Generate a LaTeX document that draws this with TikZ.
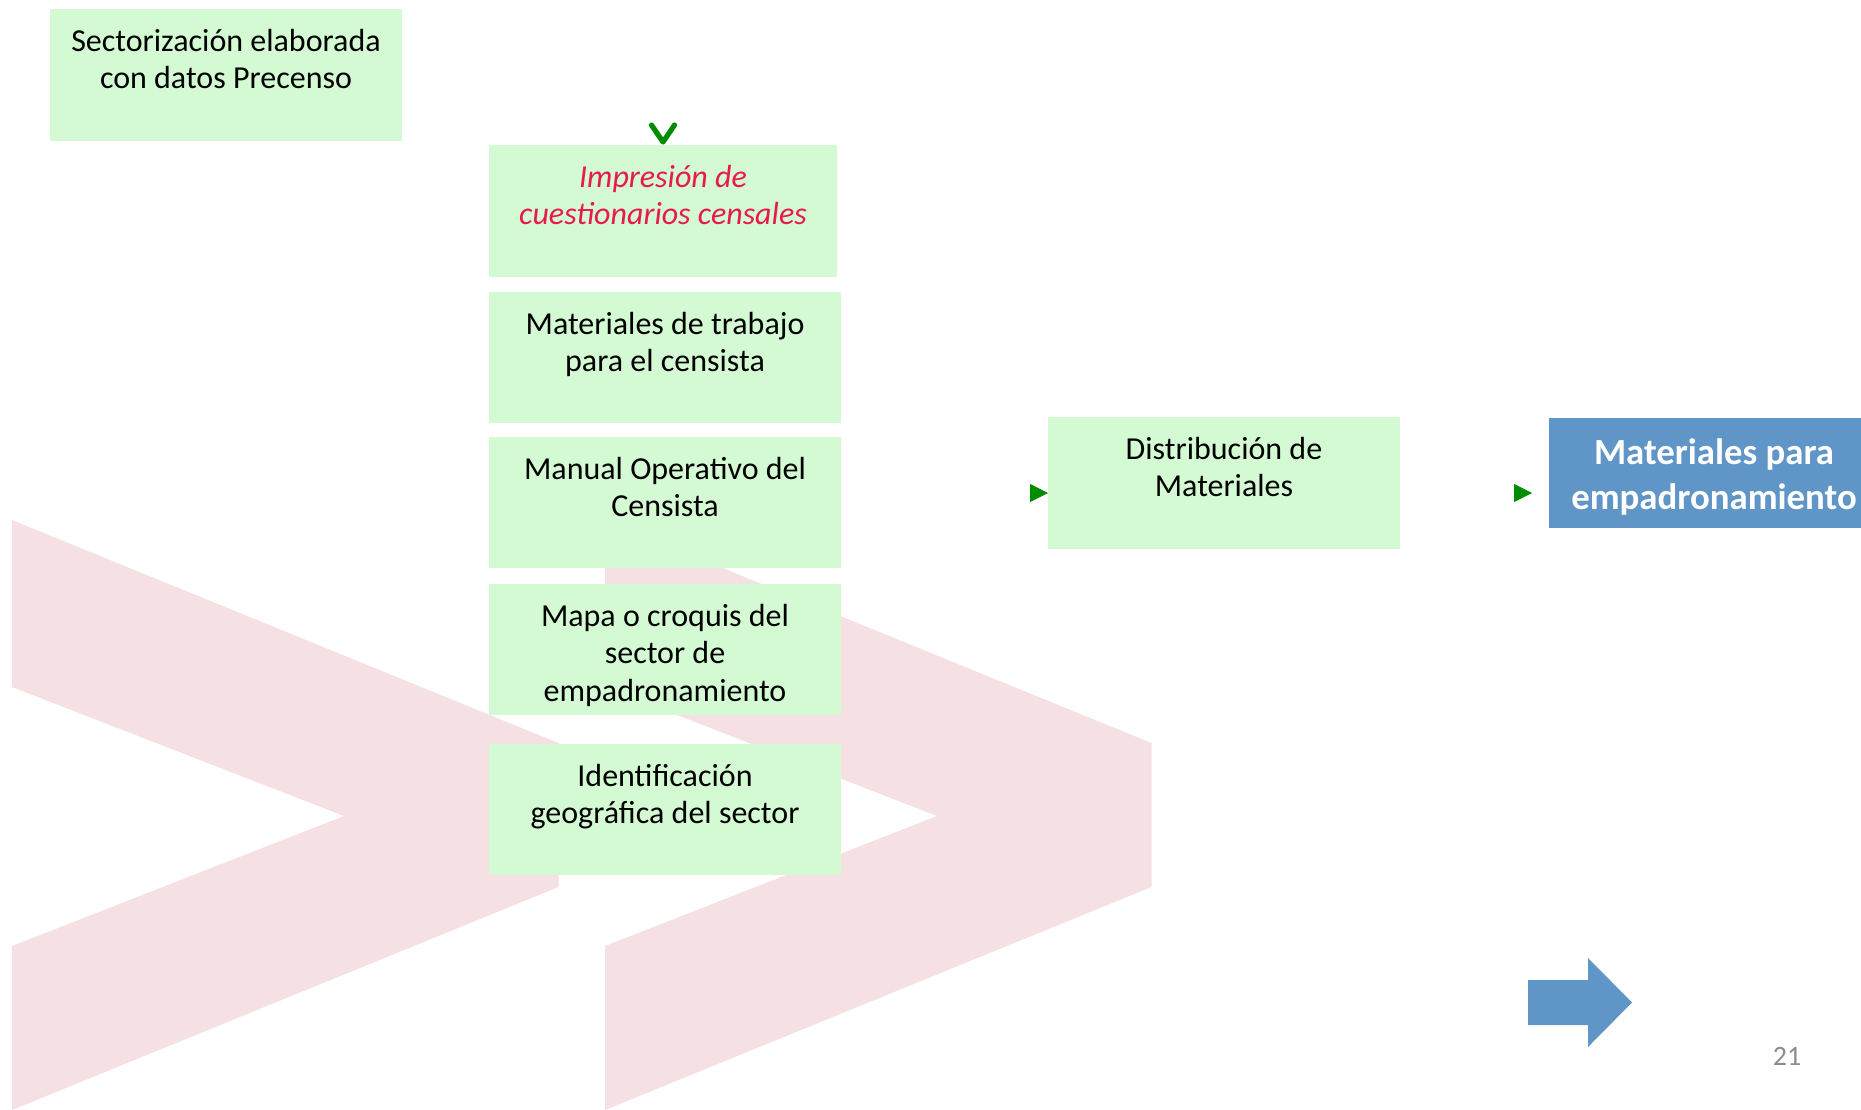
\documentclass[tikz,border=0pt]{standalone}
\usepackage{fontspec}
\setmainfont{Carlito}
\usetikzlibrary{positioning,arrows.meta}

\definecolor{boxgreen}{RGB}{212,250,212}
\definecolor{tipgreen}{RGB}{0,140,0}
\definecolor{titlered}{RGB}{232,25,76}
\definecolor{matblue}{RGB}{95,149,199}
\definecolor{chevpink}{RGB}{245,225,228}
\definecolor{pagegray}{RGB}{140,140,140}

\tikzset{
  box/.style={fill=boxgreen, minimum width=176pt, minimum height=66pt, inner sep=0pt},
  txt/.style={align=center, inner sep=0pt, font=\fontsize{16}{18.75}\selectfont},
  vtip/.style={tips, color=tipgreen, -{Straight Barb[length=8.5pt,width=11.5pt,line width=2.6pt,round]}},
  tritip/.style={tips, color=tipgreen, -{Triangle[length=9pt,width=9pt]}},
}

\begin{document}
\begin{tikzpicture}[x=0.5pt,y=-0.5pt]
\useasboundingbox (0,0) rectangle (1861,1109);
\clip (0,0) rectangle (1861,1109);

% background chevrons
\foreach \dx in {0,593}{
	\fill[chevpink] ({12+\dx},520) -- ({558.5+\dx},743) -- ({558.5+\dx},887) -- ({12+\dx},1110)
		-- ({12+\dx},946) -- ({344+\dx},816) -- ({12+\dx},687) -- cycle;
}

% boxes
\node[box] (sector) at (226,75) {};
\node[box, minimum width=174pt] (impr) at (663,211) {};
\node[box, minimum height=65.5pt] (trab) at (665,357.5) {};
\node[box, minimum height=65.5pt] (manual) at (665,502.5) {};
\node[box, minimum height=65.5pt] (mapa) at (665,649.5) {};
\node[box, minimum height=65.5pt] (ident) at (665,809.5) {};
\node[box] (dist) at (1224,483) {};
\node[fill=matblue, minimum width=165pt, minimum height=55pt, inner sep=0pt] (mat) at (1714,473) {};

% texts
\node[txt, below=8pt of sector.north] (sectort) {\strut Sectorización elaborada\\con datos Precenso};
\node[txt, text=titlered, font=\fontsize{16}{18.75}\selectfont\itshape, below=8pt of impr.north] (imprt) {\strut Impresión de\\cuestionarios censales};
\node[txt, below=8pt of trab.north] (trabt) {\strut Materiales de trabajo\\para el censista};
\node[txt, below=8pt of manual.north] (manualt) {\strut Manual Operativo del\\Censista};
\node[txt, below=8pt of mapa.north] (mapat) {\strut Mapa o croquis del\\sector de\\empadronamiento};
\node[txt, below=8pt of ident.north] (identt) {\strut Identificación\\geográfica del sector};
\node[txt, below=8pt of dist.north] (distt) {\strut Distribución de\\Materiales};
\node[txt, text=white, font=\fontsize{18.4}{22.5}\selectfont\bfseries, below=7.5pt of mat.north] (matt) {\strut Materiales para\\empadronamiento};

% arrow tips
\coordinate (distin) at (1048,493);
\coordinate (matin) at (1532,493);
\path[vtip] (sector.east -| impr.north) -- (impr.north);
\path[tritip] (manual.east |- distin) -- (distin);
\path[tritip] (dist.east |- matin) -- (matin);

% next arrow and page number
\fill[matblue] (1528,980) -- (1588,980) -- (1588,958) -- (1632,1002.5) -- (1588,1047) -- (1588,1025) -- (1528,1025) -- cycle;
\node[font=\fontsize{14}{16}\selectfont, text=pagegray, inner sep=0pt] (pnum) at (1787,1056) {21};
\end{tikzpicture}
\end{document}
